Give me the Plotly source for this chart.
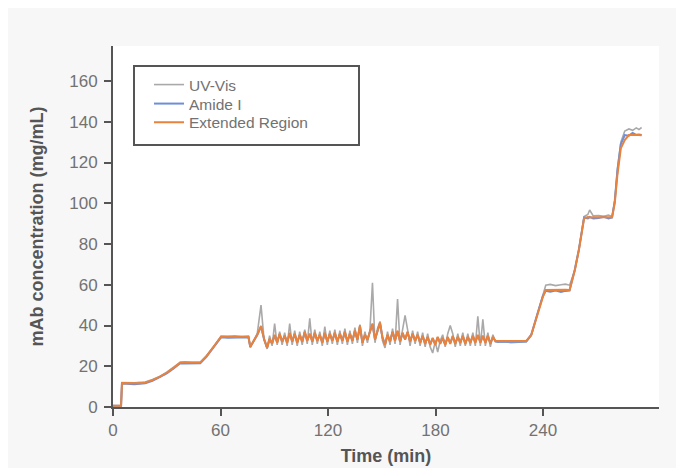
import plotly.graph_objects as go

# ---------------- data ----------------
# Segment A: start-up, steps and first perturbation (min)
time_a = [0, 4.5, 5.0, 8, 12, 15, 18, 22, 26, 30, 34, 37.5, 40, 44, 48.7, 52, 56, 60.3,
          64, 68, 72, 75.6, 76.6, 78.5, 80.5, 82.6, 84.3]
uv_a = [0.6, 0.6, 12.0, 11.8, 11.9, 12.1, 12.3, 13.5, 15.0, 17.1, 19.6, 22.0, 22.2, 21.9, 22.0,
        25.0, 29.4, 34.8, 34.7, 34.9, 34.6, 34.8, 29.2, 32.8, 36.0, 50.0, 33.0]
amide_a = [0.6, 0.6, 11.5, 11.3, 11.2, 11.4, 11.6, 12.8, 14.5, 16.5, 19.0, 21.5, 21.4, 21.3, 21.5,
           24.5, 29.0, 34.2, 34.0, 34.1, 34.2, 34.2, 29.5, 32.3, 35.3, 39.5, 33.3]
ext_a = [0.6, 0.6, 11.8, 11.7, 11.6, 11.7, 12.0, 13.2, 14.8, 16.8, 19.3, 21.8, 21.8, 21.7, 21.8,
         24.8, 29.2, 34.5, 34.5, 34.3, 34.5, 34.5, 29.6, 32.5, 35.5, 39.8, 33.5]

# Segment B: oscillating region (min)
time_b = [86.0, 87.4, 88.8, 90.2, 91.6, 93.0, 94.4, 95.8, 97.2, 98.6,
          100.0, 101.4, 102.8, 104.2, 105.6, 107.0, 108.4, 109.8, 111.2, 112.6,
          114.0, 115.4, 116.8, 118.2, 119.6, 121.0, 122.4, 123.8, 125.2, 126.6,
          128.0, 129.4, 130.8, 132.2, 133.6, 135.0, 136.4, 137.8, 139.2, 140.6,
          142.0, 143.4, 144.8, 146.2, 147.6, 149.0, 150.4, 151.8, 153.2, 154.6,
          156.0, 157.4, 158.8, 160.2, 161.6, 163.0, 164.4, 165.8, 167.2, 168.6,
          170.0, 171.4, 172.8, 174.2, 175.6, 177.0, 178.4, 179.8, 181.2, 182.6,
          184.0, 185.4, 186.8, 188.2, 189.6, 191.0, 192.4, 193.8, 195.2, 196.6,
          198.0, 199.4, 200.8, 202.2, 203.6, 205.0, 206.4, 207.8, 209.2, 210.6,
          212.0, 213.4]
ext_b = [29.0, 33.5, 31.0, 35.5, 31.5, 36.0, 32.0, 35.0, 31.5, 36.5,
         32.0, 36.0, 31.5, 35.5, 32.0, 37.0, 32.5, 36.0, 32.0, 36.5,
         32.5, 35.5, 31.5, 36.5, 32.0, 36.0, 32.5, 36.5, 32.0, 36.0,
         32.5, 37.0, 32.0, 36.0, 32.5, 37.5, 33.0, 40.0, 31.5, 35.5,
         33.0, 37.0, 41.0, 33.0, 37.5, 41.5, 34.0, 30.5, 35.5, 32.0,
         37.0, 32.5, 37.5, 32.0, 36.5, 33.0, 37.0, 32.0, 36.0, 32.5,
         35.5, 31.5, 35.0, 31.0, 34.5, 30.5, 34.0, 30.5, 34.5, 31.0,
         34.0, 30.5, 34.5, 31.0, 35.0, 31.0, 34.5, 31.5, 35.0, 31.0,
         34.5, 31.5, 35.0, 31.5, 35.5, 31.5, 35.0, 31.5, 35.0, 31.0,
         34.5, 32.5]
amide_b = [29.2, 33.2, 31.3, 35.2, 31.8, 35.6, 32.2, 34.8, 31.8, 36.0,
           32.3, 35.7, 31.8, 35.2, 32.3, 36.6, 32.7, 35.7, 32.3, 36.1,
           32.7, 35.2, 31.8, 36.1, 32.3, 35.7, 32.7, 36.1, 32.3, 35.7,
           32.7, 36.6, 32.3, 35.7, 32.7, 37.1, 33.2, 39.5, 31.8, 35.2,
           33.2, 36.7, 40.5, 33.3, 37.1, 41.0, 34.2, 30.8, 35.2, 32.3,
           36.7, 32.7, 37.1, 32.3, 36.2, 33.2, 36.7, 32.3, 35.7, 32.7,
           35.2, 31.8, 34.7, 31.3, 34.2, 30.8, 33.7, 30.8, 34.2, 31.3,
           33.7, 30.8, 34.2, 31.3, 34.7, 31.3, 34.2, 31.8, 34.7, 31.3,
           34.2, 31.8, 34.7, 31.8, 35.2, 31.8, 34.7, 31.8, 34.7, 31.3,
           34.2, 32.3]
uv_b = [28.5, 35.0, 30.0, 41.0, 30.5, 37.0, 30.5, 36.5, 30.0, 41.0,
        30.5, 37.5, 30.0, 37.0, 30.5, 38.0, 31.0, 43.5, 30.5, 38.0,
        31.0, 37.0, 30.0, 39.5, 30.5, 37.5, 31.0, 38.0, 30.5, 37.5,
        31.0, 38.5, 30.5, 37.5, 31.0, 39.0, 31.5, 40.5, 30.0, 37.0,
        31.5, 38.0, 61.0, 31.5, 38.5, 42.0, 32.5, 29.0, 37.0, 30.5,
        38.5, 31.0, 53.0, 30.5, 38.0, 45.0, 38.0, 30.0, 37.5, 31.0,
        37.0, 30.0, 36.5, 29.5, 36.0, 29.5, 26.5, 32.0, 27.0, 32.5,
        35.5, 29.5, 36.0, 40.0, 36.0, 29.5, 36.0, 30.0, 36.5, 30.0,
        36.0, 30.0, 36.5, 30.0, 44.5, 30.0, 43.0, 30.0, 36.5, 29.5,
        35.5, 32.0]

# Segment C: plateau and final concentration steps (min)
time_c = [214.8, 218, 222, 226, 230.6, 233.4, 237.1, 239.9, 241.5, 244, 247, 250, 252.5,
          254.8, 257.7, 260, 262.9, 265, 266, 268, 271, 274, 276.5, 278.5, 280, 281.5,
          283.4, 285.6, 287.9, 290, 292, 293.5, 295.0]
ext_c = [32.4, 32.4, 32.3, 32.4, 32.4, 35.3, 46.0, 54.0, 57.4, 57.5, 57.3, 57.4, 57.5,
         57.4, 67.0, 77.0, 92.6, 93.2, 93.0, 93.1, 93.0, 93.2, 93.0, 93.1, 100.0, 114.0,
         127.0, 131.0, 133.5, 133.6, 133.4, 133.5, 133.4]
amide_c = [32.0, 32.1, 31.9, 32.0, 32.1, 35.5, 46.5, 54.5, 57.0, 56.6, 57.2, 56.5, 57.0,
           57.2, 67.5, 77.5, 93.0, 92.6, 93.3, 92.5, 92.8, 93.4, 92.6, 93.0, 101.0, 116.0,
           129.0, 133.5, 133.2, 134.5, 133.6, 133.8, 133.5]
uv_c = [31.8, 32.0, 31.6, 31.9, 32.0, 35.0, 46.5, 55.0, 59.8, 60.2, 59.6, 60.0, 60.3,
        59.8, 67.0, 77.0, 93.5, 94.5, 96.7, 93.8, 94.0, 93.6, 94.2, 93.5, 101.0, 117.0,
        130.0, 135.5, 136.5, 135.8, 137.0, 136.2, 137.2]

x_ticks = [0, 60, 120, 180, 240]
y_ticks = [0, 20, 40, 60, 80, 100, 120, 140, 160]

time = time_a + time_b + time_c
uv = uv_a + uv_b + uv_c
amide = amide_a + amide_b + amide_c
ext = ext_a + ext_b + ext_c

# ---------------- figure ----------------
FONT = "Liberation Sans, Arial, sans-serif"
AX = "#555555"
TXT = "#727272"

W, H = 684, 468
L, R, T, B = 105, 33, 38, 69
pw, ph = W - L - R, H - T - B


def px_x(px):
    return (px - L) / pw


def px_y(py):
    return (H - B - py) / ph


fig = go.Figure()
fig.add_trace(go.Scatter(x=time, y=uv, mode="lines", name="UV-Vis", legend="legend",
                         line=dict(color="#a9a9a9", width=1.6)))
fig.add_trace(go.Scatter(x=time, y=amide, mode="lines", name="Amide I", legend="legend2",
                         line=dict(color="#6d8ed8", width=2)))
fig.add_trace(go.Scatter(x=time, y=ext, mode="lines", name="Extended Region", legend="legend3",
                         line=dict(color="#e8823c", width=2)))

legend_common = dict(xanchor="left", yanchor="top", bgcolor="rgba(0,0,0,0)", borderwidth=0,
                     font=dict(family=FONT, size=15.5, color=TXT), indentation=0)

fig.update_layout(
    width=W, height=H,
    margin=dict(l=L, r=R, t=T, b=B),
    paper_bgcolor="#f7f7f7",
    plot_bgcolor="#ffffff",
    font=dict(family=FONT, color=TXT, size=17),
    showlegend=True,
    legend=dict(x=px_x(141), y=px_y(60), **legend_common),
    legend2=dict(x=px_x(141), y=px_y(79), **legend_common),
    legend3=dict(x=px_x(141), y=px_y(97.7), **legend_common),
    xaxis=dict(
        range=[0, 304.7], tickvals=x_ticks, ticktext=[str(v) for v in x_ticks],
        showgrid=False, zeroline=False, showline=True, linecolor=AX, linewidth=2,
        ticks="outside", ticklen=7, tickwidth=2, tickcolor=AX,
        tickfont=dict(family=FONT, size=17, color=TXT),
        title=dict(text="<b>Time (min)</b>", font=dict(family=FONT, size=18, color=AX), standoff=10),
    ),
    yaxis=dict(
        range=[0, 177.2], tickvals=y_ticks, ticktext=[str(v) for v in y_ticks],
        showgrid=False, zeroline=False, showline=True, linecolor=AX, linewidth=2,
        ticks="outside", ticklen=7, tickwidth=2, tickcolor=AX, ticklabelstandoff=3,
        tickfont=dict(family=FONT, size=17, color=TXT),
        title=dict(text="<b>mAb concentration (mg/mL)</b>", font=dict(family=FONT, size=18, color=AX), standoff=21),
    ),
)

# legend frame
fig.add_shape(type="rect", xref="paper", yref="paper", layer="above",
              x0=px_x(126), x1=px_x(351), y0=px_y(137), y1=px_y(58),
              fillcolor="#ffffff", line=dict(color=AX, width=2))

fig.write_html("out.html")
